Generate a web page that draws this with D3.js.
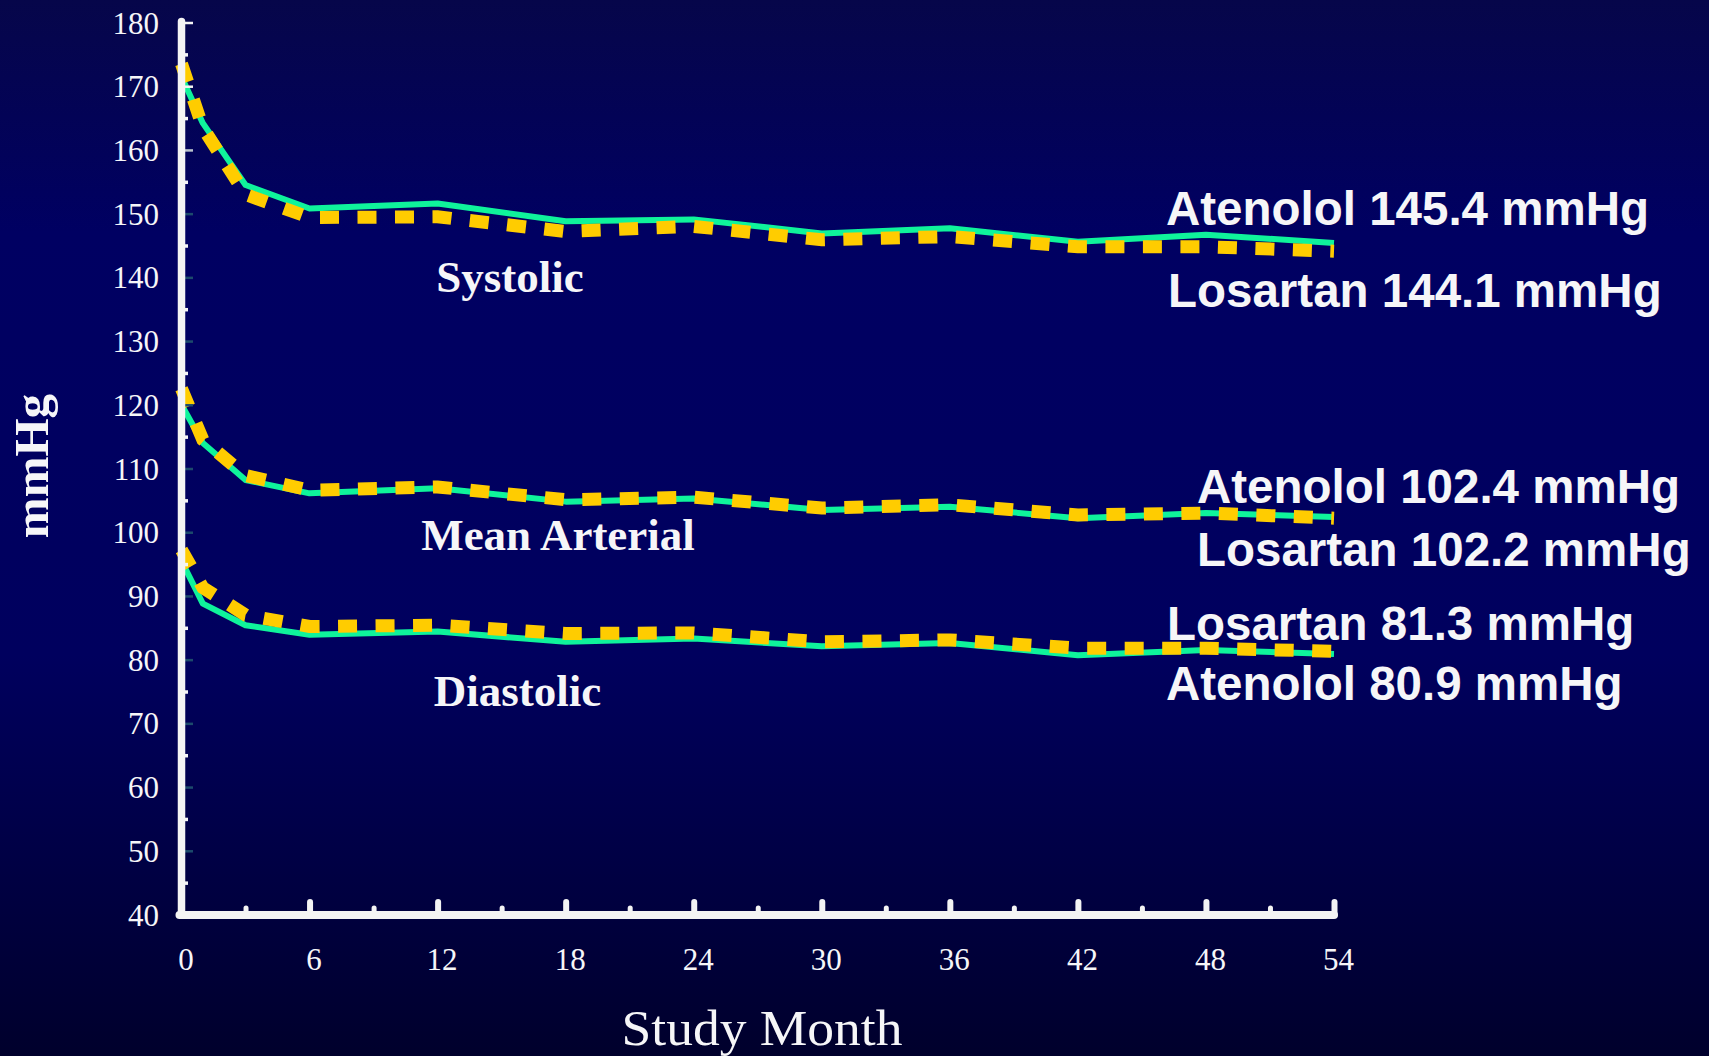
<!DOCTYPE html>
<html>
<head>
<meta charset="utf-8">
<script src="https://cdn.jsdelivr.net/npm/d3@7/dist/d3.min.js"></script>
<style>
  html, body { margin: 0; padding: 0; background: #000050; overflow: hidden; }
  svg { display: block; }
</style>
</head>
<body>
<svg id="chart" width="1709" height="1056"></svg>
<script>
// Study visits (months) and blood pressure readings per treatment arm (mmHg)
const months = [0, 1, 3, 6, 12, 18, 24, 30, 36, 42, 48, 54];

const atenololSystolic  = [171.5, 164.2, 154.5, 150.8, 151.6, 148.8, 149.1, 146.9, 147.7, 145.6, 146.7, 145.4];
const losartanSystolic  = [173.5, 163.5, 153.0, 149.4, 149.5, 147.2, 148.0, 145.9, 146.4, 144.8, 144.8, 144.1];
const atenololMean      = [120.0, 114.0, 108.2, 106.1, 106.9, 104.8, 105.3, 103.5, 104.0, 102.2, 103.0, 102.4];
const losartanMean      = [122.5, 114.5, 108.9, 106.6, 107.1, 105.1, 105.5, 103.8, 104.3, 102.7, 103.0, 102.2];
const atenololDiastolic = [95.5, 88.8, 85.4, 83.9, 84.4, 82.8, 83.3, 82.1, 82.6, 80.7, 81.5, 80.9];
const losartanDiastolic = [97.2, 91.3, 87.0, 85.2, 85.4, 84.1, 84.2, 82.8, 83.1, 81.8, 81.8, 81.3];

const groupNames = ["Systolic", "Mean Arterial", "Diastolic"];
const drugNames = ["Atenolol", "Losartan"];

const yTickValues = [40, 50, 60, 70, 80, 90, 100, 110, 120, 130, 140, 150, 160, 170, 180];
const yMinorValues = [45, 55, 65, 75, 85, 95, 105, 115, 125, 135, 145, 155, 165, 175];
const xTickValues = [0, 6, 12, 18, 24, 30, 36, 42, 48, 54];
const xMinorValues = [3, 9, 15, 21, 27, 33, 39, 45, 51];

const xTitle = "Study Month";
const yTitle = "mmHg";

// ---- series table built from the arrays above ----
const series = [
  { drug: drugNames[0], group: 0, values: atenololSystolic },
  { drug: drugNames[1], group: 0, values: losartanSystolic },
  { drug: drugNames[0], group: 1, values: atenololMean },
  { drug: drugNames[1], group: 1, values: losartanMean },
  { drug: drugNames[0], group: 2, values: atenololDiastolic },
  { drug: drugNames[1], group: 2, values: losartanDiastolic }
];

// ---- layout ----
const W = 1709, H = 1056;
const svg = d3.select("#chart");

const x = d3.scaleLinear().domain([0, 54]).range([181.5, 1334]);
const y = d3.scaleLinear().domain([40, 180]).range([914.5, 22.5]);

const colors = { Atenolol: "#0ff39b", Losartan: "#ffcc00" };
const textColor = "#f6f6f8";
const serif = "'Liberation Serif', 'Times New Roman', serif";
const sans = "'Liberation Sans', Arial, sans-serif";

// background
const defs = svg.append("defs");
const bg = defs.append("linearGradient").attr("id", "bg")
  .attr("x1", 0).attr("y1", 0).attr("x2", 0).attr("y2", 1);
bg.append("stop").attr("offset", "0%").attr("stop-color", "#06064a");
bg.append("stop").attr("offset", "22%").attr("stop-color", "#000062");
bg.append("stop").attr("offset", "62%").attr("stop-color", "#00005e");
bg.append("stop").attr("offset", "100%").attr("stop-color", "#00002c");
svg.append("rect").attr("width", W).attr("height", H).attr("fill", "url(#bg)");

// ---- lines ----
const line = d3.line().x((d, i) => x(months[i])).y(d => y(d));

const order = ["Atenolol", "Losartan"];
order.forEach(drug => {
  svg.append("g").selectAll("path")
    .data(series.filter(s => s.drug === drug))
    .join("path")
    .attr("d", s => line(s.values))
    .attr("fill", "none")
    .attr("stroke", colors[drug])
    .attr("stroke-width", drug === "Atenolol" ? 6 : 13)
    .attr("stroke-dasharray", drug === "Atenolol" ? null : "19,18.5")
    .attr("stroke-linejoin", drug === "Atenolol" ? "round" : "miter")
    .attr("stroke-linecap", "butt");
});

// ---- axes ----
const yMajorColor = v => v === 180 || v === 170 ? "#f4f4f4" : (v === 160 ? "#b9c2cc" : "#1c4a6c");

// y minor bumps
const yMinor = svg.append("g").attr("transform", `translate(${x(0)},0)`)
  .call(d3.axisLeft(y).tickValues(yMinorValues).tickSize(-6.5).tickSizeOuter(0).tickFormat(""));
yMinor.select(".domain").remove();
yMinor.selectAll(".tick line").attr("stroke", "#f4f4f4").attr("stroke-width", 3.5);

// y major ticks + labels
const yAxis = svg.append("g").attr("transform", `translate(${x(0)},0)`)
  .call(d3.axisLeft(y).tickValues(yTickValues).tickSize(-11.5).tickSizeOuter(0)
    .tickPadding(22.5).tickFormat(d3.format("d")));
yAxis.select(".domain").remove();
yAxis.selectAll(".tick line")
  .attr("stroke", d => yMajorColor(d)).attr("stroke-width", 2.5);
yAxis.selectAll(".tick text")
  .attr("fill", textColor).attr("font-family", serif).attr("font-size", 31)
  .attr("dy", "0.34em");

// y axis spine
svg.append("line")
  .attr("x1", x(0)).attr("x2", x(0)).attr("y1", y(180) - 1).attr("y2", y(40))
  .attr("stroke", "#f4f4f4").attr("stroke-width", 7.5).attr("stroke-linecap", "round");

// x minor ticks
const xMinor = svg.append("g").attr("transform", `translate(0,${y(40) + 0.5})`)
  .call(d3.axisBottom(x).tickValues(xMinorValues).tickSize(-7).tickSizeOuter(0).tickFormat(""));
xMinor.select(".domain").remove();
xMinor.selectAll(".tick line").attr("stroke", "#f4f4f4").attr("stroke-width", 5)
  .attr("stroke-linecap", "round");

// x major ticks + labels
const xAxis = svg.append("g").attr("transform", `translate(0,${y(40) + 0.5})`)
  .call(d3.axisBottom(x).tickValues(xTickValues).tickSize(-13).tickSizeOuter(0)
    .tickFormat(d3.format("d")));
xAxis.select(".domain").remove();
xAxis.selectAll(".tick line").attr("stroke", "#f4f4f4").attr("stroke-width", 6)
  .attr("stroke-linecap", "round");
xAxis.selectAll(".tick text")
  .attr("fill", textColor).attr("font-family", serif).attr("font-size", 31)
  .attr("y", 55).attr("dy", 0).attr("dx", 4);

// x axis spine
svg.append("line")
  .attr("x1", x(0) - 2).attr("x2", x(54)).attr("y1", y(40) + 0.5).attr("y2", y(40) + 0.5)
  .attr("stroke", "#f4f4f4").attr("stroke-width", 8).attr("stroke-linecap", "round");

// ---- axis titles ----
svg.append("text")
  .attr("x", 762).attr("y", 1045)
  .attr("text-anchor", "middle")
  .attr("font-family", serif).attr("font-size", 50)
  .attr("textLength", 281).attr("lengthAdjust", "spacingAndGlyphs")
  .attr("fill", textColor)
  .text(xTitle);

svg.append("text")
  .attr("transform", "translate(48,466) rotate(-90)")
  .attr("text-anchor", "middle")
  .attr("font-family", serif).attr("font-size", 49).attr("font-weight", "bold")
  .attr("fill", textColor)
  .text(yTitle);

// ---- group captions ----
const groupLayout = [
  { cx: 510, by: 291.5 },
  { cx: 558, by: 550 },
  { cx: 517.5, by: 705.5 }
];
svg.append("g").selectAll("text")
  .data(groupNames)
  .join("text")
  .attr("x", (d, i) => groupLayout[i].cx)
  .attr("y", (d, i) => groupLayout[i].by)
  .attr("text-anchor", "middle")
  .attr("font-family", serif).attr("font-size", 45).attr("font-weight", "bold")
  .attr("fill", textColor)
  .text(d => d);

// ---- end-of-study labels ----
const endLabelLayout = [
  { x: 1166, by: 225 },   // Atenolol systolic
  { x: 1168, by: 306.5 }, // Losartan systolic
  { x: 1197, by: 502.5 }, // Atenolol mean arterial
  { x: 1197, by: 566 },   // Losartan mean arterial
  { x: 1166, by: 700 },   // Atenolol diastolic
  { x: 1167, by: 640 }    // Losartan diastolic
];
svg.append("g").selectAll("text")
  .data(series)
  .join("text")
  .attr("x", (d, i) => endLabelLayout[i].x)
  .attr("y", (d, i) => endLabelLayout[i].by)
  .attr("font-family", sans).attr("font-size", 47.5).attr("font-weight", "bold")
  .attr("fill", textColor)
  .text(d => `${d.drug} ${d.values[d.values.length - 1].toFixed(1)} mmHg`);
</script>
</body>
</html>
